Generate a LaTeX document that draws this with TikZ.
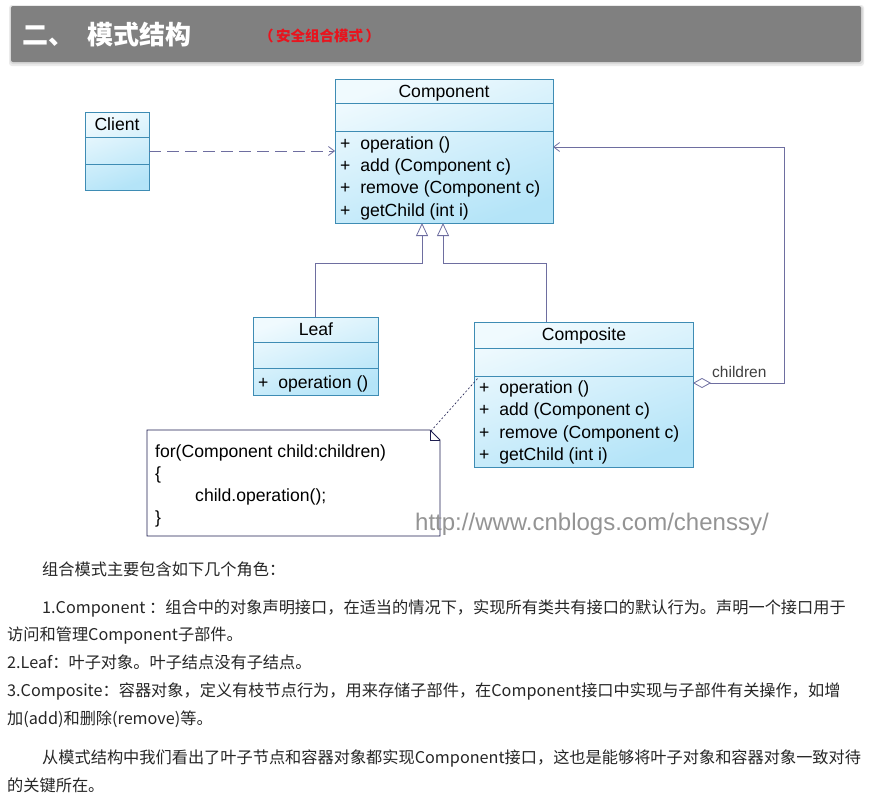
\documentclass[tikz,border=0pt]{standalone}
\usepackage{fontspec}
\setmainfont{Liberation Sans}
\newfontfamily\cjk{Noto Sans CJK SC}
\usetikzlibrary{arrows.meta,calc}
\definecolor{boxblue}{RGB}{62,140,180}
\definecolor{boxtop}{RGB}{240,250,254}
\definecolor{boxbot}{RGB}{180,228,248}
\definecolor{conn}{RGB}{110,110,160}
\definecolor{notecol}{RGB}{30,30,80}
\definecolor{titlered}{RGB}{232,20,30}
\definecolor{bargray}{RGB}{128,128,128}
\begin{document}
\begin{tikzpicture}[x=1pt,y=-1pt,
  umlbox/.style={draw=boxblue, line width=0.8pt, top color=boxtop, bottom color=boxbot, shading angle=20, inner sep=0, outer sep=0, anchor=north west},
  sep/.style={draw=boxblue, line width=0.8pt},
  uml/.style={font=\fontsize{17.6}{20}\selectfont, anchor=base west, inner sep=0},
  umlname/.style={font=\fontsize{17.6}{20}\selectfont, anchor=base, inner sep=0},
  dep/.style={draw=conn, line width=0.8pt, dash pattern=on 12pt off 6pt, -{Straight Barb[length=6pt,width=9pt]}},
  gen/.style={draw=conn, line width=0.8pt, -{Triangle[open,length=13pt,width=12pt,fill=white]}},
  agg/.style={draw=conn, line width=0.8pt, {Diamond[open,length=18pt,width=10pt,fill=white]}-{Straight Barb[length=6pt,width=9pt]}},
  notelink/.style={draw=notecol, line width=0.6pt, dash pattern=on 2pt off 2pt},
  body/.style={font=\cjk\fontsize{16.2}{18}\selectfont, anchor=base west, inner sep=0, text=black!85},
  titlefont/.style={font=\cjk\bfseries\fontsize{26}{30}\selectfont, text=white, anchor=base west, inner sep=0},
]
\useasboundingbox (0,0) rectangle (872,811);
\fill[white] (0,0) rectangle (872,811);
% header bar with shadow
\fill[black!8, rounded corners=3pt] (9,5) rectangle (864,66);
\fill[black!15, rounded corners=3pt] (10,6) rectangle (863,64);
\fill[bargray, rounded corners=2pt] (11,6) rectangle (861,62);
\node[titlefont] (t1) at (22,44) {二、};
\node[titlefont] (t2) at (87,44) {模式结构};
\node[font=\cjk\bfseries\fontsize{14.5}{17}\selectfont, text=titlered, anchor=base west, inner sep=0] (t3) at (259,41) {（\,安全组合模式\,）};

% Component
\node[umlbox, minimum width=218pt, minimum height=144pt] (comp) at (335,79) {};
\draw[sep] (335,103) -- (553,103);
\draw[sep] (335,131) -- (553,131);
\node[umlname] (compn) at (444,97) {Component};
\node[uml] (c1) at (340,149) {+\ \ operation ()};
\node[uml] (c2) at (340,171) {+\ \ add (Component c)};
\node[uml] (c3) at (340,193) {+\ \ remove (Component c)};
\node[uml] (c4) at (340,216) {+\ \ getChild (int i)};

% Client
\node[umlbox, minimum width=64pt, minimum height=78pt] (client) at (85,112) {};
\draw[sep] (85,137) -- (149,137);
\draw[sep] (85,164) -- (149,164);
\node[umlname] (clientn) at (117,130) {Client};

% Leaf
\node[umlbox, minimum width=125pt, minimum height=78pt] (leaf) at (253,317) {};
\draw[sep] (253,342) -- (378,342);
\draw[sep] (253,368) -- (378,368);
\node[umlname] (leafn) at (316,335) {Leaf};
\node[uml] (l1) at (258,388) {+\ \ operation ()};

% Composite
\node[umlbox, minimum width=219pt, minimum height=145pt] (composite) at (474,322) {};
\draw[sep] (474,348) -- (693,348);
\draw[sep] (474,376) -- (693,376);
\node[umlname] (compon) at (584,340) {Composite};
\node[uml] (p1) at (479,393) {+\ \ operation ()};
\node[uml] (p2) at (479,415) {+\ \ add (Component c)};
\node[uml] (p3) at (479,438) {+\ \ remove (Component c)};
\node[uml] (p4) at (479,460) {+\ \ getChild (int i)};

% Note
\draw[notecol, line width=0.8pt, fill=white] (147,430) -- (430,430) -- (440,440) -- (440,536) -- (147,536) -- cycle;
\draw[notecol, line width=0.6pt] (430,430) -- (430,440) -- (440,440);
\coordinate (notecorner) at (431,431);
\node[uml] (n1) at (155,457) {for(Component child:children)};
\node[uml] (n2) at (155,479) {\{};
\node[uml] (n3) at (195,501) {child.operation();};
\node[uml] (n4) at (155,523) {\}};

% URL watermark
\node[font=\fontsize{24}{27}\selectfont, text=black!42, anchor=base west, inner sep=0] (url) at (415,530) {http://www.cnblogs.com/chenssy/};

% connectors
\draw[dep] (client.east) -- (client.east -| comp.west);
\draw[gen] (leaf.north) |- ($(comp.south west)+(87,40)$) -- ($(comp.south west)+(87,0)$);
\draw[gen] ($(composite.north west)+(72,0)$) |- ($(comp.south west)+(108,40)$) -- ($(comp.south west)+(108,0)$);
\draw[agg] ($(composite.north east)+(0,61)$) -- ++(91,0) |- ($(comp.north east)+(0,68)$);
\node[font=\fontsize{15.5}{18}\selectfont, text=black!75, anchor=base west, inner sep=0] (childlbl) at (712,377) {children};
\draw[notelink] (notecorner) -- ($(composite.north west)+(4,56)$);

% body text
\node[body] (b1) at (42,575) {组合模式主要包含如下几个角色：};
\node[body] (b2) at (42,613) {1.Component ：组合中的对象声明接口，在适当的情况下，实现所有类共有接口的默认行为。声明一个接口用于};
\node[body] (b3) at (7,640) {访问和管理Component子部件。};
\node[body] (b4) at (7,668) {2.Leaf：叶子对象。叶子结点没有子结点。};
\node[body] (b5) at (7,696) {3.Composite：容器对象，定义有枝节点行为，用来存储子部件，在Component接口中实现与子部件有关操作，如增};
\node[body] (b6) at (7,724) {加(add)和删除(remove)等。};
\node[body] (b7) at (42,763) {从模式结构中我们看出了叶子节点和容器对象都实现Component接口，这也是能够将叶子对象和容器对象一致对待};
\node[body] (b8) at (7,791) {的关键所在。};
\end{tikzpicture}
\end{document}
